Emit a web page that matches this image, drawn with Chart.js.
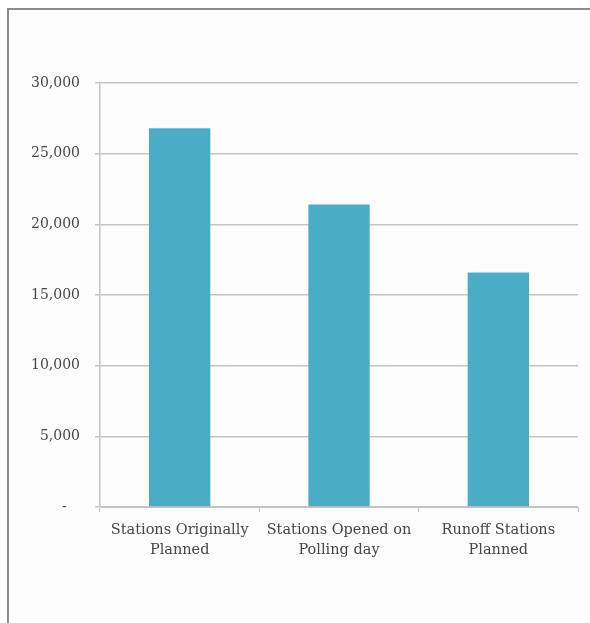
<!DOCTYPE html>
<html>
<head>
<meta charset="utf-8">
<script src="https://cdn.jsdelivr.net/npm/chart.js@4.4.1/dist/chart.umd.min.js"></script>
<style>
    html, body { margin: 0; padding: 0; background: #ffffff; }
    #frame {
        position: absolute; left: 7px; top: 8px; width: 583px; height: 615px;
        border-left: 2px solid #8c8c8c; border-top: 2px solid #8c8c8c;
        background: #fdfdfd;
    }
    #stationsChart { position: absolute; left: 0; top: 0; }
</style>
</head>
<body>
<div id="frame"></div>
<canvas id="stationsChart" width="590" height="623"></canvas>
<script>
const categories = [
    ['Stations Originally', 'Planned'],
    ['Stations Opened on', 'Polling day'],
    ['Runoff Stations', 'Planned']
];
const stationCounts = [26800, 21400, 16600];
const yTicks = [0, 5000, 10000, 15000, 20000, 25000, 30000];

const gridColor = '#c4c4c4';
const labelColor = '#474747';

new Chart(document.getElementById('stationsChart'), {
    type: 'bar',
    data: {
        labels: categories,
        datasets: [{
            data: stationCounts,
            backgroundColor: '#4bacc6',
            borderWidth: 0,
            categoryPercentage: 1,
            barPercentage: 0.385,
        }]
    },
    options: {
        responsive: false,
        animation: false,
        layout: { padding: { top: 83, right: 12, left: 0, bottom: 0 } },
        plugins: { legend: { display: false }, tooltip: { enabled: false } },
        scales: {
            x: {
                afterFit: (scale) => { scale.height = 116; },
                grid: {
                    offset: true,
                    drawOnChartArea: false,
                    tickLength: 5,
                    color: gridColor,
                },
                border: { color: gridColor, width: 1 },
                ticks: {
                    color: labelColor,
                    padding: 8,
                    maxRotation: 0,
                    font: { family: 'DejaVu Serif', size: 14.5, lineHeight: 1.4 },
                }
            },
            y: {
                min: 0,
                max: 30000,
                afterFit: (scale) => { scale.width = 100; },
                afterBuildTicks: (scale) => {
                    scale.ticks = yTicks.map(v => ({ value: v }));
                },
                grid: { color: gridColor, tickLength: 5, lineWidth: 1.5 },
                border: { color: gridColor, width: 1.5 },
                ticks: {
                    color: labelColor,
                    padding: 15,
                    font: { family: 'DejaVu Serif', size: 14 },
                    callback: (v) => v === 0 ? '-   ' : v.toLocaleString('en-US'),
                }
            }
        }
    }
});
</script>
</body>
</html>
